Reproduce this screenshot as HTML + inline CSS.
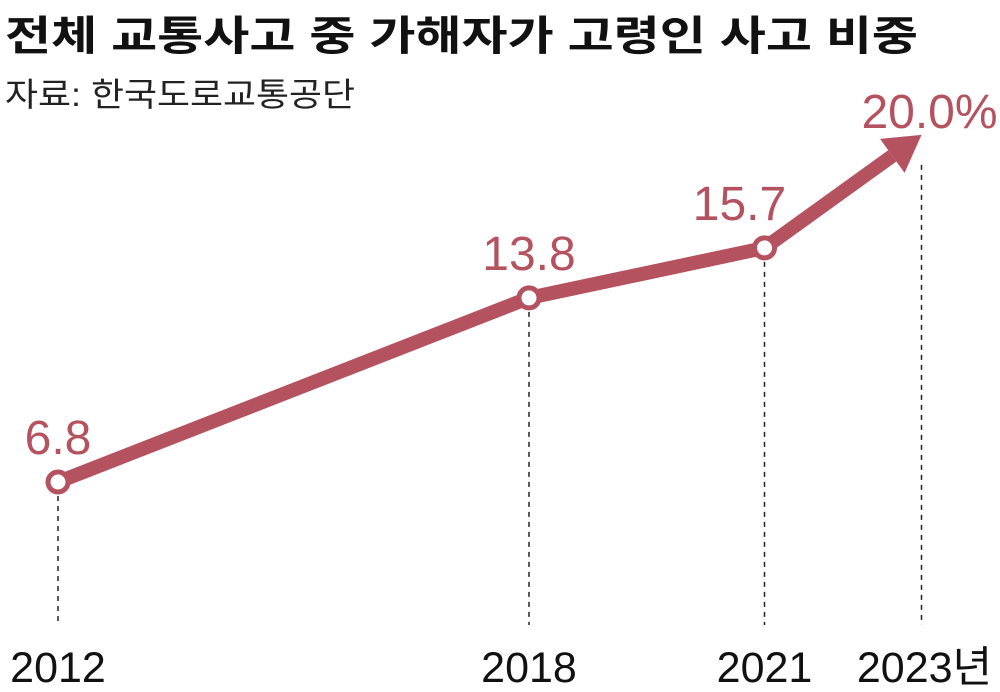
<!DOCTYPE html>
<html><head><meta charset="utf-8"><style>
html,body{margin:0;padding:0;background:#fff;}
svg{display:block;}
text{font-family:"Liberation Sans","Noto Sans CJK KR",sans-serif;}
.t{font-family:"Liberation Sans","Noto Sans CJK KR",sans-serif;}
</style></head><body>
<svg id="chart" width="1000" height="692" viewBox="0 0 1000 692">
<text class="t" x="5" y="50" font-size="41" font-weight="bold" fill="#111" textLength="913" lengthAdjust="spacingAndGlyphs">전체 교통사고 중 가해자가 고령인 사고 비중</text>
<text class="t" x="5" y="106" font-size="33" fill="#222" textLength="350" lengthAdjust="spacingAndGlyphs">자료: 한국도로교통공단</text>
<g id="marks"></g>
</svg>
<script>
const years = [2012, 2018, 2021, 2023];
const values = [6.8, 13.8, 15.7, 20.0];
const valueLabels = ["6.8", "13.8", "15.7", "20.0%"];
const yearLabels = ["2012", "2018", "2021", "2023년"];

const NS = "http://www.w3.org/2000/svg";
const color = "#b5525f";
function xs(y){ return 58 + (y - 2012) * 78.5; }
function ys(v){ return 482 - (v - 6.8) * 26.3; }
const g = document.getElementById("marks");
function mk(tag, attrs){ const e=document.createElementNS(NS,tag); for(const k in attrs) e.setAttribute(k,attrs[k]); g.appendChild(e); return e; }

const last = years.length-1;
for (let i=0;i<years.length;i++){
  const x=xs(years[i]), y=ys(values[i]);
  const d=mk("line",{x1:x,y1:y+(i===last?30:14),x2:x,y2:625,stroke:"#222","stroke-width":1.5,"stroke-dasharray":"5,5"});
  
  
}
const tx=xs(years[last]), ty=ys(values[last]);
const px=xs(years[last-1]), py=ys(values[last-1]);
const ang=Math.atan2(ty-py, tx-px);
const headLen=36, headW=21;
const bx=tx-headLen*Math.cos(ang), by=ty-headLen*Math.sin(ang);
let pts=[];
for(let i=0;i<last;i++) pts.push(xs(years[i])+","+ys(values[i]));
pts.push(bx+","+by);
const line=mk("polyline",{points:pts.join(" "),fill:"none",stroke:color,"stroke-width":14,"stroke-linejoin":"round"});


const nx=-Math.sin(ang), ny=Math.cos(ang);
const head=mk("polygon",{points:`${tx},${ty} ${bx+nx*headW},${by+ny*headW} ${bx-nx*headW},${by-ny*headW}`,fill:color});


for(let i=0;i<years.length;i++){
  const x=xs(years[i]), y=ys(values[i]);
  if(i<last){
    const c=mk("circle",{cx:x,cy:y,r:10,fill:"#fff",stroke:color,"stroke-width":5});
    
    
  }
  const lx = i===last ? x+8 : (i===2 ? x-25 : x);
  const ly = i===last ? y-7 : y-28;
  const t=mk("text",{x:lx,y:ly,"font-size":48,fill:color,"text-anchor":"middle"});
  t.textContent=valueLabels[i];
  
  
  const yl=mk("text",{x:i===last?x+3:x,y:682,"font-size":43,fill:"#111","text-anchor":"middle"});
  yl.textContent=yearLabels[i];
  
  
}
</script>
</body></html>
